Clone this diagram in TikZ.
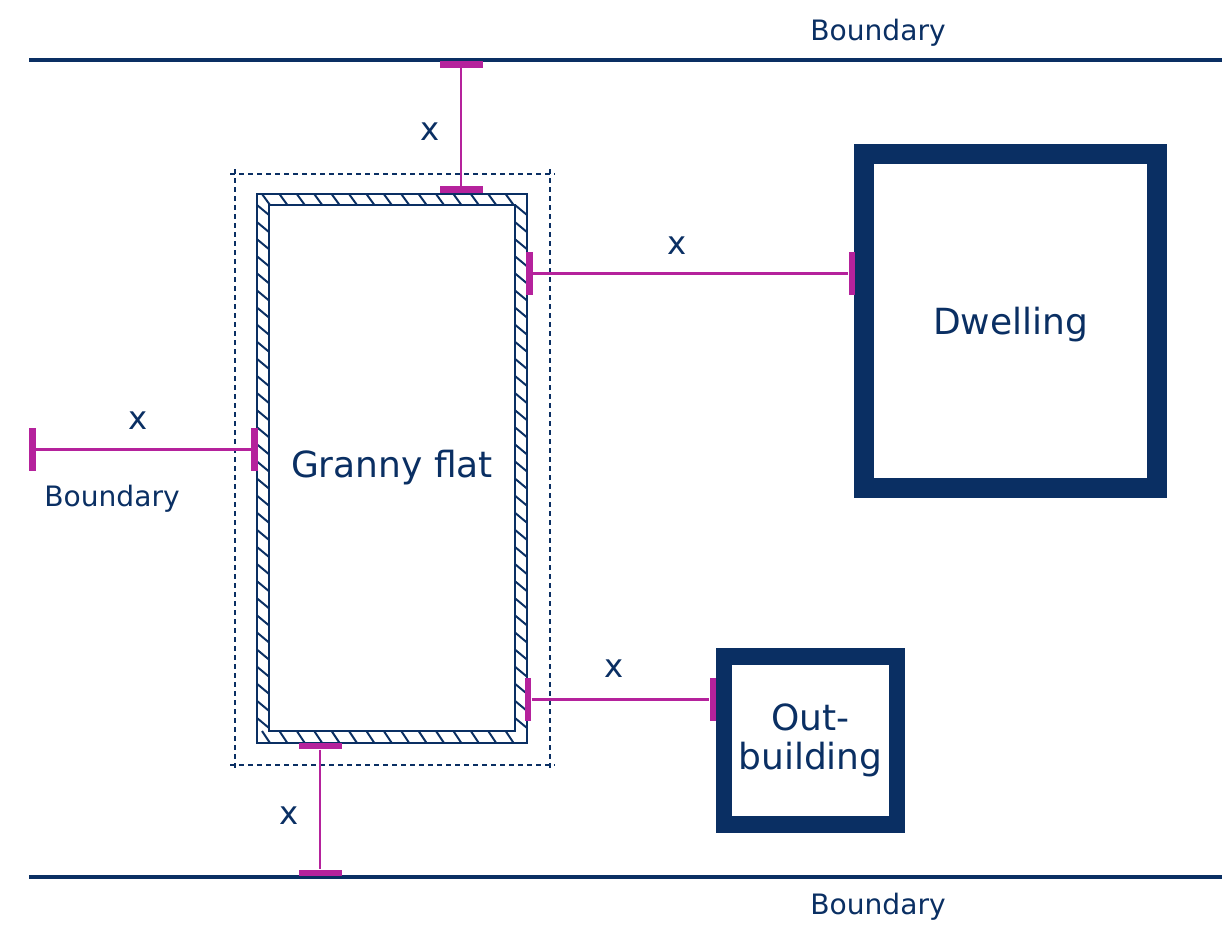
\documentclass[tikz,border=0pt]{standalone}
\usepackage{fontspec}
\setmainfont{DejaVu Sans}
\definecolor{navy}{HTML}{0A2F63}
\definecolor{plum}{HTML}{B5229C}
\tikzset{
    building/.style={draw=navy,inner sep=0,align=center,text=navy,font=\fontsize{25.6}{27.5}\selectfont},
    htick/.style={fill=plum,inner sep=0,minimum width=10.75mm,minimum height=1.7mm},
    vtick/.style={fill=plum,inner sep=0,minimum width=1.7mm,minimum height=10.75mm},
    dim/.style={draw=plum,line width=1.5pt},
    xlabel/.style={text=navy,font=\fontsize{23}{24}\selectfont},
    bndlabel/.style={text=navy,font=\fontsize{20}{22}\selectfont},
    bnd/.style={draw=navy,line width=2.6pt},
    wall/.style={draw=navy,line width=1.6pt},
    hatch/.style={draw=navy,line width=1.4pt},
    offset/.style={draw=navy,line width=0.8pt,dash pattern=on 3.6pt off 2.8pt}
}
\begin{document}
\begin{tikzpicture}[x=0.25mm,y=-0.25mm]
    \useasboundingbox (0,0) rectangle (1222,938);
    % boundaries
    \coordinate (bndTopL) at (29,60);
    \coordinate (bndTopR) at (1222,60);
    \coordinate (bndBotL) at (29,877);
    \coordinate (bndBotR) at (1222,877);
    \draw[bnd] (bndTopL) -- (bndTopR);
    \draw[bnd] (bndBotL) -- (bndBotR);
    \node[bndlabel] (bndTop) at (878,33) {Boundary};
    \node[bndlabel] (bndBot) at (878,907) {Boundary};
    \node[bndlabel] (bndLeft) at (112,499) {Boundary};
    % hatched wall
    \foreach \x in {0,1,...,14}
        \draw[hatch] (262+17.4*\x,194) -- (270+17.4*\x,205);
    \foreach \x in {0,1,...,14}
        \draw[hatch] (262+17.4*\x,731) -- (270+17.4*\x,743);
    \foreach \y in {0,1,...,30} {
        \draw[hatch] (257,205+17.1*\y) -- (269,215+17.1*\y);
        \draw[hatch] (515,205+17.1*\y) -- (527,215+17.1*\y);
    }
    \node[building,minimum width=67.5mm,minimum height=137.25mm,wall] (flatOuter) at (392,468.5) {};
    \node[building,minimum width=61.5mm,minimum height=131.5mm,wall,fill=white] (flat) at (392,468) {Granny flat};
    % offset line
    \coordinate (dashNW) at (235,174);
    \coordinate (dashNE) at (550,174);
    \coordinate (dashSW) at (235,765);
    \coordinate (dashSE) at (550,765);
    \draw[offset] ([xshift=-1.2mm]dashNW) -- ([xshift=1.2mm]dashNE);
    \draw[offset] ([xshift=-1.2mm]dashSW) -- ([xshift=1.2mm]dashSE);
    \draw[offset] ([yshift=1.2mm]dashNW) -- ([yshift=-1.2mm]dashSW);
    \draw[offset] ([yshift=1.2mm]dashNE) -- ([yshift=-1.2mm]dashSE);
    % buildings
    \node[building,minimum width=73.25mm,minimum height=83.5mm,line width=14.2pt,text depth=-2pt] (dwelling) at (1010.5,321) {Dwelling};
    \node[building,minimum width=43.25mm,minimum height=42mm,line width=12pt] (outbuilding) at (810.5,740.5) {Out-\\building};
    % ticks
    \node[htick] (tickTopA) at (461,64.5) {};
    \node[htick] (tickTopB) at (461,189.5) {};
    \node[vtick] (tickDwA) at (529.5,273.5) {};
    \node[vtick] (tickDwB) at (852,273.5) {};
    \node[vtick] (tickLeftA) at (32.5,449.5) {};
    \node[vtick] (tickLeftB) at (254.5,449.5) {};
    \node[vtick] (tickOutA) at (528,699.5) {};
    \node[vtick] (tickOutB) at (713,699.5) {};
    \node[htick] (tickBotA) at (320,746) {};
    \node[htick] (tickBotB) at (320,873) {};
    \draw[dim] (tickTopA) -- (tickTopB);
    \draw[dim] (tickDwA) -- (tickDwB);
    \draw[dim] (tickLeftA) -- (tickLeftB);
    \draw[dim] (tickOutA) -- (tickOutB);
    \draw[dim] (tickBotA) -- (tickBotB);
    % x labels
    \node[xlabel] (xTop) at (430,132) {x};
    \node[xlabel] (xDw) at (677,246) {x};
    \node[xlabel] (xLeft) at (138,421) {x};
    \node[xlabel] (xOut) at (614,669) {x};
    \node[xlabel] (xBot) at (289,816) {x};
\end{tikzpicture}
\end{document}
